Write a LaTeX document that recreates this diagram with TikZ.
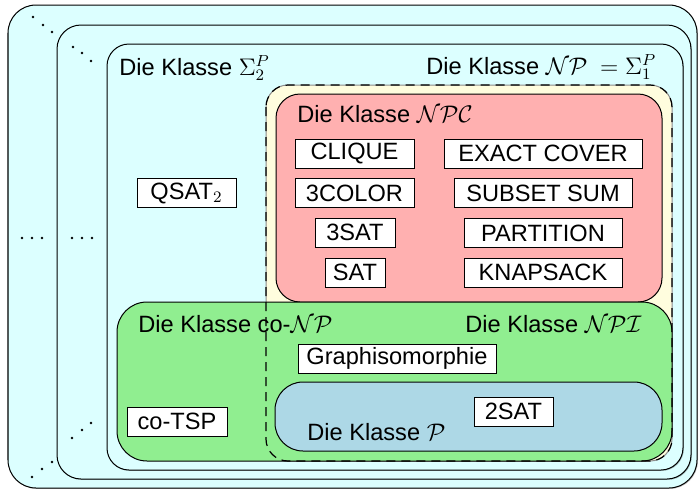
\documentclass[tikz,border=0pt]{standalone}
\usepackage{fontspec}
\setmainfont{Liberation Sans}
\usetikzlibrary{shadows}

\definecolor{cyanbg}{HTML}{DCFFFF}
\definecolor{npyellow}{HTML}{FFFDDE}
\definecolor{npcred}{HTML}{FFB0B0}
\definecolor{conpgreen}{HTML}{90EE90}
\definecolor{pblue}{HTML}{ADD8E6}

\begin{document}
\begin{tikzpicture}[x=0.5pt,y=-0.5pt,
  every node/.style={font=\fontsize{11.8}{14}\selectfont},
  region/.style={rectangle, rounded corners=#1, draw=black, line width=0.5pt,
    inner sep=0pt, outer sep=0pt},
  layer/.style={region=#1, fill=cyanbg,
    drop shadow={shadow xshift=0.45pt, shadow yshift=-0.45pt, fill=black, opacity=0.25}},
  problem/.style={rectangle, draw=black, fill=white, line width=0.5pt,
    minimum height=14.5pt, inner sep=0pt},
  classlabel/.style={anchor=base west, inner sep=0pt},
  ellipsisdot/.style={fill=black},
]
\useasboundingbox (0,0) rectangle (698,489);

% nested hierarchy levels
\node[layer=14pt, minimum width=344.5pt, minimum height=241.5pt] (outer) at (352.5,246.5) {};
\node[layer=12pt, minimum width=317pt, minimum height=227pt] (middle) at (374,252) {};
\node[layer=11pt, minimum width=288pt, minimum height=213pt] (sigma2) at (395,257) {};

% NP and its subclasses
\node[region=11pt, fill=npyellow, draw=black!45, minimum width=203pt, minimum height=188pt] (np) at (469,273) {};
\node[region=12pt, fill=npcred, minimum width=193pt, minimum height=104pt] (npc) at (469,198) {};
\node[region=15pt, fill=conpgreen, minimum width=277.5pt, minimum height=79.5pt] (conp) at (394.5,381.5) {};
\draw[line width=0.6pt, dash pattern=on 4.5pt off 3pt, rounded corners=11pt]
  (np.north west) rectangle (np.south east);
\node[region=14pt, fill=pblue, minimum width=193.5pt, minimum height=34.5pt] (p) at (468.5,416.5) {};

% class labels
\node[classlabel] (lsigma2) at (119,75) {Die Klasse $\Sigma_2^P$};
\node[classlabel] (lnp) at (426,74) {Die Klasse $\mathcal{NP}$\hspace{3pt} $=\Sigma_1^P$};
\node[classlabel] (lnpc) at (297,122) {Die Klasse $\mathcal{NPC}$};
\node[classlabel] (lconp) at (138,332) {Die Klasse co-$\mathcal{NP}$};
\node[classlabel] (lnpi) at (465,332) {Die Klasse $\mathcal{NPI}$};
\node[classlabel] (lp) at (307,440) {Die Klasse $\mathcal{P}$};

% problems
\node[problem, minimum width=49.5pt] (qsat) at (186.5,193) {QSAT$_2$};
\node[problem, minimum width=59.5pt] (clique) at (354.5,153.5) {CLIQUE};
\node[problem, minimum width=59.5pt] (color) at (354.5,193) {3COLOR};
\node[problem, minimum width=40pt] (tsat) at (355,232.5) {3SAT};
\node[problem, minimum width=30pt] (sat) at (355,272.5) {SAT};
\node[problem, minimum width=99pt] (exact) at (543,153.5) {EXACT COVER};
\node[problem, minimum width=89pt] (subset) at (543,193) {SUBSET SUM};
\node[problem, minimum width=79pt] (partition) at (543,233) {PARTITION};
\node[problem, minimum width=79pt] (knapsack) at (543,272.5) {KNAPSACK};
\node[problem, minimum width=99pt] (graphiso) at (397,358.5) {Graphisomorphie};
\node[problem, minimum width=39.5pt] (twosat) at (513.5,411.5) {2SAT};
\node[problem, minimum width=50pt] (cotsp) at (177,421.5) {co-TSP};

% ellipsis dots marking further levels
\foreach \x/\y in {33/17, 43/25, 52/32, 73/47, 82/53, 91/61,
                   22/238, 32/238, 42/238, 72/238, 82/238, 92/238,
                   32/477, 42/469, 52/462, 72/438, 82/430, 91/423}
  \fill[ellipsisdot] (\x,\y) circle[radius=0.65pt];
\end{tikzpicture}
\end{document}
